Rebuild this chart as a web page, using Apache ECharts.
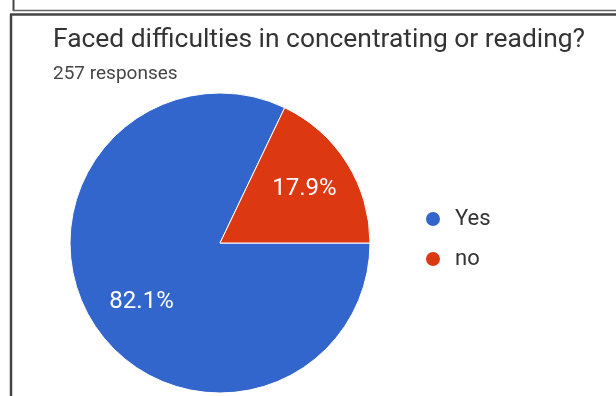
<!DOCTYPE html>
<html>
<head>
<meta charset="utf-8">
<script src="https://cdn.jsdelivr.net/npm/echarts@6/dist/echarts.min.js"></script>
<style>
  html, body { margin: 0; padding: 0; background: #fff; }
  #chart { width: 616px; height: 396px; }
</style>
</head>
<body>
<div id="chart"></div>
<script>
// Survey answers: how many respondents picked each option
const categories = ['Yes', 'no'];
const counts = [211, 46];
const sliceColors = ['#3366cc', '#dc3912'];
const questionTitle = 'Faced difficulties in concentrating or reading?';
const responsesText = '257 responses';

const pieData = categories.map((name, i) => ({
  name: name,
  value: counts[i],
  itemStyle: { color: sliceColors[i] }
}));

const FONT = 'Roboto, "Noto Sans", Arial, sans-serif';
const chart = echarts.init(document.getElementById('chart'), null, { renderer: 'canvas' });

chart.setOption({
  animation: false,
  backgroundColor: '#fff',
  title: {
    text: questionTitle,
    subtext: responsesText,
    left: 48,
    top: 22,
    itemGap: 12,
    textStyle: { fontFamily: FONT, fontSize: 26.4, fontWeight: 'normal', color: '#333' },
    subtextStyle: { fontFamily: FONT, fontSize: 19, color: '#444' }
  },
  legend: {
    orient: 'vertical',
    left: 424,
    top: 208,
    padding: 0,
    icon: 'circle',
    itemWidth: 16,
    itemHeight: 16,
    itemGap: 18,
    textStyle: { fontFamily: FONT, fontSize: 22, color: '#333', padding: [0, 0, 0, 9] },
    data: categories
  },
  graphic: [
    { type: 'line', shape: { x1: 13.5, y1: 0, x2: 13.5, y2: 11 }, style: { stroke: '#444', lineWidth: 2 } },
    { type: 'line', shape: { x1: 13, y1: 10.5, x2: 616, y2: 10.5 }, style: { stroke: '#666', lineWidth: 1.5 } },
    { type: 'line', shape: { x1: 10, y1: 14.5, x2: 616, y2: 14.5 }, style: { stroke: '#444', lineWidth: 2.5 } },
    { type: 'line', shape: { x1: 11, y1: 14, x2: 11, y2: 396 }, style: { stroke: '#444', lineWidth: 2.5 } }
  ],
  series: [
    {
      // the slices themselves
      type: 'pie',
      center: [220, 243],
      radius: [0, 150],
      startAngle: 0,
      clockwise: true,
      percentPrecision: 1,
      label: { show: false },
      labelLine: { show: false },
      emphasis: { disabled: true },
      itemStyle: { borderColor: '#fff', borderWidth: 1 },
      data: pieData
    },
    {
      // transparent twin used only to place the percentage labels at about 2/3 of the radius
      type: 'pie',
      center: [220, 243],
      radius: [0, 196],
      startAngle: 0,
      clockwise: true,
      percentPrecision: 1,
      silent: true,
      emphasis: { disabled: true },
      itemStyle: { color: 'rgba(0,0,0,0)', borderWidth: 0 },
      label: {
        show: true,
        position: 'inside',
        formatter: '{d}%',
        color: '#fff',
        fontFamily: FONT,
        fontSize: 24
      },
      // the large slice's label sits a little nearer its centre line
      labelLayout: (p) => (p.dataIndex === 0 ? { dx: 7, dy: 5 } : { dx: -1 }),
      labelLine: { show: false },
      data: categories.map((name, i) => ({ name: name, value: counts[i] }))
    }
  ]
});
</script>
</body>
</html>
